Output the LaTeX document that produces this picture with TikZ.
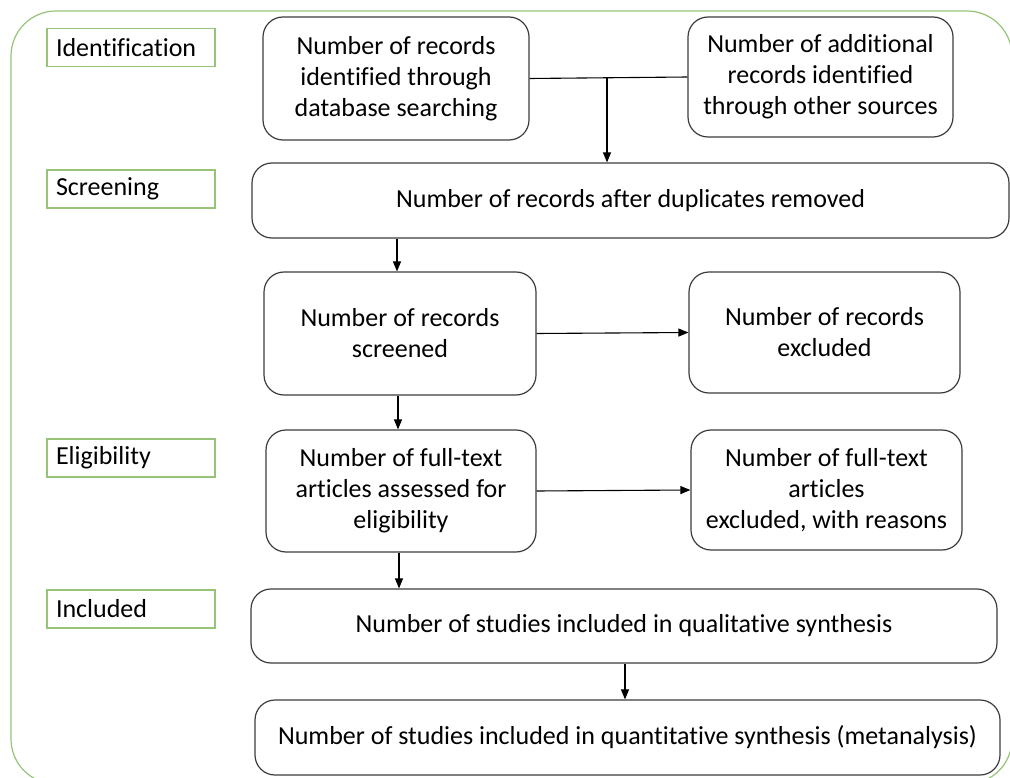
\documentclass[tikz,border=0pt]{standalone}
\usepackage{fontspec}
\setmainfont{Carlito}[Ligatures={NoCommon}]
\usetikzlibrary{arrows.meta,calc}
\definecolor{frameg}{RGB}{150,195,120}
\definecolor{lineg}{RGB}{60,60,60}
\tikzset{
  flowbox/.style={draw=lineg, line width=1.2pt, rounded corners=20pt, align=center,
    font=\fontsize{26}{31}\selectfont, inner sep=0pt},
  stagelabel/.style={draw=frameg, line width=1.2pt, minimum width=168pt, minimum height=38pt,
    font=\fontsize{26}{31}\selectfont, text width=150pt, align=left, inner sep=0pt, anchor=center},
  conn/.style={draw=black, line width=1.1pt},
  arr/.style={conn, -{Triangle[length=10pt,width=8pt]}}
}
\begin{document}
\begin{tikzpicture}[x=1pt,y=-1pt]
\useasboundingbox (0,0) rectangle (1010,778);
\draw[frameg, line width=1.2pt, rounded corners=45pt] (11,11) rectangle (1012,784);

\node[stagelabel] (lid) at (131,47.5) {Identification};
\node[stagelabel] (lsc) at (131,189) {Screening};
\node[stagelabel] (lel) at (131,458) {Eligibility};
\node[stagelabel] (lin) at (131,609) {Included};

\node[flowbox, minimum width=266pt, minimum height=123pt] (A) at (396,78.5)
  {Number of records\\identified through\\database searching};
\node[flowbox, minimum width=265pt, minimum height=120pt] (B) at (820.5,77)
  {Number of additional\\records identified\\through other sources};
\node[flowbox, minimum width=757pt, minimum height=75pt] (C) at (630.5,200.5)
  {Number of records after duplicates removed};
\node[flowbox, minimum width=272pt, minimum height=123pt] (D) at (400,333.5)
  {Number of records\\screened};
\node[flowbox, minimum width=271pt, minimum height=121pt] (E) at (824.5,332.5)
  {Number of records\\excluded};
\node[flowbox, minimum width=270pt, minimum height=122pt] (F) at (401,491)
  {Number of full-text\\articles assessed for\\eligibility};
\node[flowbox, minimum width=271pt, minimum height=120pt] (G) at (826.5,490)
  {Number of full-text\\articles\\excluded, with reasons};
\node[flowbox, minimum width=746pt, minimum height=74pt] (H) at (624,626)
  {Number of studies included in qualitative synthesis};
\node[flowbox, minimum width=745pt, minimum height=75pt] (I) at (627.5,737.5)
  {Number of studies included in quantitative synthesis (metanalysis)};

\coordinate (J) at (607,78);
\draw[conn] (A.east) -- (B.west);
\draw[arr] (J) -- (J |- C.north);
\draw[arr] ($(D.north |- C.south)+(-3,0)$) -- ($(D.north)+(-3,0)$);
\draw[arr] (D.east) -- (E.west);
\draw[arr] ($(D.south)+(-2,0)$) -- ($(F.north)+(-3,0)$);
\draw[arr] (F.east) -- (G.west);
\draw[arr] ($(F.south)+(-2,0)$) -- ($(F.south |- H.north)+(-2,0)$);
\draw[arr] ($(H.south)+(1,0)$) -- ($(H.south |- I.north)+(1,0)$);
\end{tikzpicture}
\end{document}
